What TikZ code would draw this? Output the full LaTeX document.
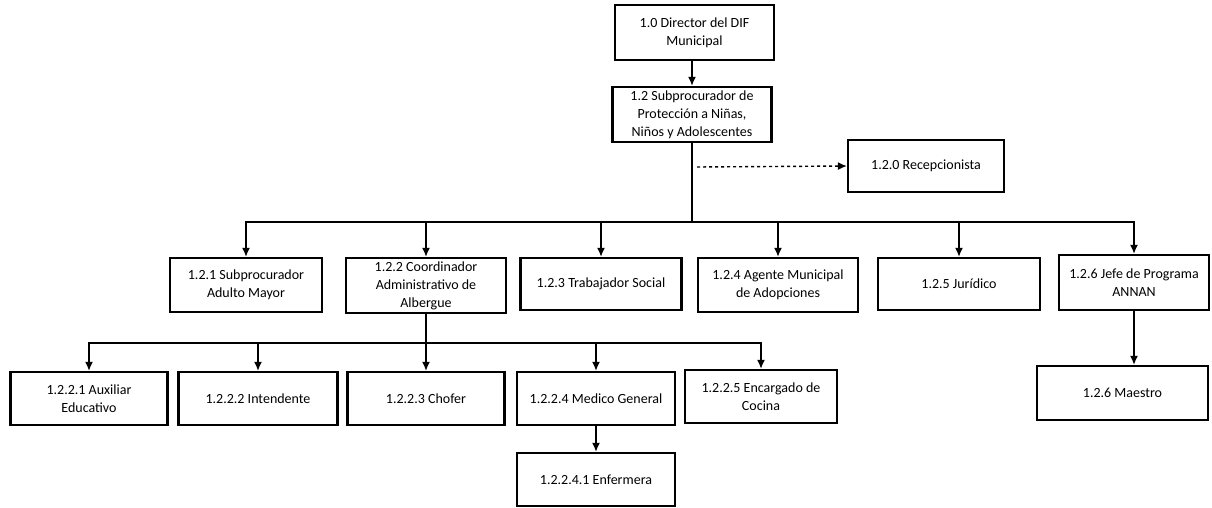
\documentclass[tikz,border=0pt]{standalone}
\usepackage{fontspec}
\setmainfont{Carlito}
\usetikzlibrary{arrows.meta}
\begin{document}
\begin{tikzpicture}[x=1pt,y=-1pt,
  box/.style={draw,line width=2.2pt,align=center,inner xsep=0pt,inner ysep=2pt,
    font=\fontsize{14}{18}\selectfont},
  conn/.style={line width=1.6pt,-{Latex[length=9pt,width=8pt]}},
  plain/.style={line width=1.6pt},
  dotconn/.style={line width=1.4pt,dash pattern=on 3pt off 3pt,-{Latex[length=9pt,width=8pt]}}]
\useasboundingbox[fill=white] (0,0) rectangle (1212,508);
% level 0-1
\node[box,minimum width=159pt,minimum height=55pt] (dir) at (694.5,32.5) {1.0 Director del DIF\\Municipal};
\node[box,minimum width=159pt,minimum height=55pt] (s12) at (692,114.5) {1.2 Subprocurador de\\Protección a Niñas,\\Niños y Adolescentes};
\node[box,minimum width=156pt,minimum height=52pt] (rec) at (926,166) {1.2.0 Recepcionista};
% level 2
\node[box,minimum width=152pt,minimum height=54pt] (n121) at (246,285) {1.2.1 Subprocurador\\Adulto Mayor};
\node[box,minimum width=160pt,minimum height=55pt] (n122) at (426,285.5) {1.2.2 Coordinador\\Administrativo de\\Albergue};
\node[box,minimum width=161pt,minimum height=52pt] (n123) at (601,284) {1.2.3 Trabajador Social};
\node[box,minimum width=160pt,minimum height=54pt] (n124) at (778,285) {1.2.4 Agente Municipal\\de Adopciones};
\node[box,minimum width=162pt,minimum height=52pt] (n125) at (959,284) {1.2.5 Jurídico};
\node[box,minimum width=150pt,minimum height=55pt] (n126) at (1134,282.5) {1.2.6 Jefe de Programa\\ANNAN};
% level 3
\node[box,minimum width=157pt,minimum height=53pt] (n1221) at (89,398.5) {1.2.2.1 Auxiliar\\Educativo};
\node[box,minimum width=159pt,minimum height=53pt] (n1222) at (258,398.5) {1.2.2.2 Intendente};
\node[box,minimum width=157pt,minimum height=53pt] (n1223) at (426,398.5) {1.2.2.3 Chofer};
\node[box,minimum width=158pt,minimum height=53pt] (n1224) at (596,398.5) {1.2.2.4 Medico General};
\node[box,minimum width=152pt,minimum height=53pt] (n1225) at (761,396.5) {1.2.2.5 Encargado de\\Cocina};
\node[box,minimum width=158pt,minimum height=53pt] (n12241) at (596,479.5) {1.2.2.4.1 Enfermera};
\node[box,minimum width=171pt,minimum height=54pt] (mae) at (1122.5,393) {1.2.6 Maestro};
% connectors
\draw[conn] (dir.south -| s12.north) -- (s12.north);
\coordinate (b1) at (692,222);
\coordinate (dstart) at (697,167);
\draw[plain] (s12.south) -- (b1);
\draw[dotconn] (dstart) -- (rec.west);
\foreach \n in {n121,n122,n123,n124,n125,n126}
  \draw[conn] (b1) -| (\n.north);
\coordinate (b2) at (426,343);
\draw[plain] (n122.south) -- (b2);
\foreach \n in {n1221,n1222,n1223,n1224,n1225}
  \draw[conn] (b2) -| (\n.north);
\draw[conn] (n1224.south) -- (n12241.north);
\draw[conn] (n126.south) -- (n126.south |- mae.north);
\end{tikzpicture}
\end{document}
